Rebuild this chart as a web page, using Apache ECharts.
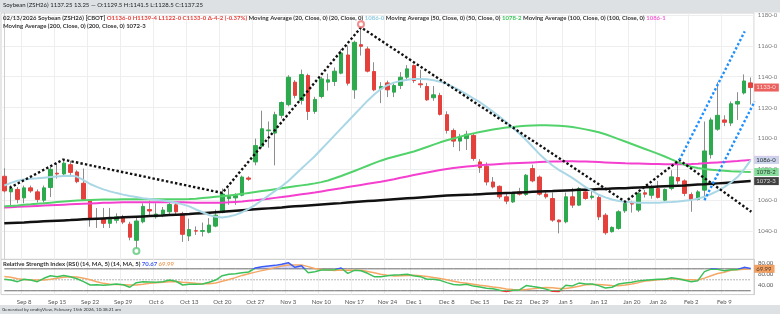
<!DOCTYPE html>
<html><head><meta charset="utf-8">
<script src="https://cdn.jsdelivr.net/npm/echarts@6/dist/echarts.min.js"></script>
<style>html,body{margin:0;padding:0;background:#fff}#c{width:780px;height:314px}</style>
</head><body><div id="c"></div>
<script>
const dates = ["Sep 3","Sep 4","Sep 5","Sep 8","Sep 9","Sep 10","Sep 11","Sep 12","Sep 15","Sep 16","Sep 17","Sep 18","Sep 19","Sep 22","Sep 23","Sep 24","Sep 25","Sep 26","Sep 29","Sep 30",
"Oct 1","Oct 2","Oct 3","Oct 6","Oct 7","Oct 8","Oct 9","Oct 10","Oct 13","Oct 14","Oct 15","Oct 16","Oct 17","Oct 20","Oct 21","Oct 22","Oct 23","Oct 24","Oct 27","Oct 28","Oct 29","Oct 30","Oct 31",
"Nov 3","Nov 4","Nov 5","Nov 6","Nov 7","Nov 10","Nov 11","Nov 12","Nov 13","Nov 14","Nov 17","Nov 18","Nov 19","Nov 20","Nov 21","Nov 24","Nov 25","Nov 26","Nov 28",
"Dec 1","Dec 2","Dec 3","Dec 4","Dec 5","Dec 8","Dec 9","Dec 10","Dec 11","Dec 12","Dec 15","Dec 16","Dec 17","Dec 18","Dec 19","Dec 22","Dec 23","Dec 24","Dec 26","Dec 29","Dec 30","Dec 31",
"Jan 2","Jan 5","Jan 6","Jan 7","Jan 8","Jan 9","Jan 12","Jan 13","Jan 14","Jan 15","Jan 16","Jan 20","Jan 21","Jan 22","Jan 23","Jan 26","Jan 27","Jan 28","Jan 29","Jan 30",
"Feb 2","Feb 3","Feb 4","Feb 5","Feb 6","Feb 9","Feb 10","Feb 11","Feb 12","Feb 13"];
const tickDates = ["Sep 8","Sep 15","Sep 22","Sep 29","Oct 6","Oct 13","Oct 20","Oct 27","Nov 3","Nov 10","Nov 17","Nov 24","Dec 1","Dec 8","Dec 15","Dec 22","Dec 29","Jan 5","Jan 12","Jan 20","Jan 26","Feb 2","Feb 9"];
const opens = [1075.5,1065.4,1067,1061.5,1068,1065.4,1060,1068.2,1077.5,1077,
1083,1078.3,1071,1060,1047.5,1048.2,1045,1047,1048.8,1044.5,
1034,1046,1054,1049.2,1050.3,1052.5,1057,1051.4,1036.8,1040.2,
1039.8,1039.2,1043.2,1052,1061,1061.5,1063.2,1074.4,1084.8,1095,
1105,1103.5,1115,1121.9,1136.5,1124.6,1140.8,1117.5,1127.2,1136.5,
1136.9,1142.3,1154.1,1131.5,1160.8,1158,1143.4,1132.2,1136,1130,
1134.3,1139.7,1147.2,1135.4,1133.7,1126.4,1127.9,1115.4,1105.2,1098.3,
1099.9,1102,1084.8,1082,1071.8,1069,1062.2,1058.9,1065.4,1063.7,
1080.5,1075,1063.9,1061.1,1047.1,1046,1062.2,1056.8,1065.4,1061.8,
1061.8,1050.3,1039.6,1041.7,1053.1,1058,1053.6,1064.8,1063.2,1067.6,
1060,1067.6,1074.7,1072.5,1063.7,1060.5,1066.5,1089.5,1106,1112,
1110,1122.3,1129.5,1136];
const highs = [1080.7,1069.7,1068.6,1069.5,1069.5,1067,1069.5,1081.5,1084,1086.5,
1085.5,1079.4,1080.5,1060.5,1054.9,1055,1055,1051.5,1050.5,1046,
1049,1058,1059.6,1058,1055.6,1058.5,1058.5,1052.5,1048,1043,
1045.5,1048.4,1053.9,1067.6,1067.6,1064.5,1076,1075.5,1099.9,1118,
1111,1117.3,1124,1141,1137.8,1144.6,1142,1127,1140,1142,
1146,1157.7,1160.2,1163.4,1172,1159.6,1149.4,1136.5,1137.5,1135.6,
1143,1147.5,1147.9,1144.5,1136,1134,1129.6,1117.6,1106.5,1103,
1105,1103.3,1086.6,1084.5,1075,1069.6,1064.8,1065.6,1068,1077,
1083,1076,1065.4,1065,1047.5,1065,1068,1068.6,1066.7,1067.2,
1063.3,1051.6,1043,1053.5,1060,1059.6,1065.6,1066.7,1070,1072.5,
1067.6,1079.4,1084.5,1073.5,1065,1066.5,1111,1113.5,1136.4,1115,
1124,1130,1141.5,1139.5];
const lows = [1065,1056,1058,1058,1064.8,1058.5,1058.4,1062,1074,1075.5,
1075.5,1071,1060,1042.8,1042,1042,1042,1045,1044.5,1034,
1029,1045,1050.5,1048,1049,1050,1050,1033,1033.5,1037.5,
1036.5,1038.5,1042.5,1051.5,1057,1057,1062.5,1072.5,1082.6,1093.6,
1094,1082.6,1113,1120.8,1126,1122,1112,1116,1126,1131,
1134,1141.6,1134.3,1125.7,1153.7,1142.8,1130.6,1122.9,1126.8,1126.8,
1132,1137.4,1136,1132.8,1124.4,1124.4,1114.9,1103.2,1094.4,1091.8,
1092.5,1085.5,1077.7,1069.6,1067.6,1060.9,1057.4,1058.2,1063,1062.8,
1071.6,1063,1061,1046,1038.5,1045,1055,1056.2,1060.3,1060.5,
1047.1,1037.6,1039,1040.9,1051.8,1052,1052.3,1061.7,1061,1061.1,
1059.4,1066.4,1070.6,1062.6,1052.5,1059.8,1062,1087,1105,1108,
1108,1112,1128.5,1122];
const closes = [1066,1067.6,1060.5,1068,1066,1060.5,1068,1080,1077,1084,
1078,1072,1060.5,1047.6,1048,1045,1047.6,1049.2,1045.8,1036,
1046.5,1056,1053,1051,1053.6,1057.2,1052.5,1037.9,1041,1040,
1040.3,1043.9,1050.3,1064,1062.6,1063,1075,1073.6,1095.4,1106.3,
1105.5,1115.4,1123.3,1139.7,1127.9,1141.4,1117.5,1125.3,1138.6,1138,
1143.6,1155.4,1135.8,1162.3,1159.7,1143.6,1131.5,1133.7,1131.5,1134.3,
1139.7,1145.1,1137.5,1134.8,1125,1128.3,1115.6,1105.2,1098.3,1100.9,
1102.7,1087,1081.1,1071.8,1068.6,1062.2,1059.4,1064.7,1063.9,1076.2,
1072.5,1063.9,1062.2,1047.1,1046,1062.2,1056.8,1067.6,1061.1,1062.6,
1049.2,1038.9,1042.4,1052.5,1057.9,1057.5,1064.5,1063.9,1068.2,1061.8,
1067,1075.1,1072.5,1064.4,1060.5,1065.4,1091.9,1112,1115,1110.5,
1122.5,1124,1137.25,1133];
const ma20 = [1069.5,1071.2,1072.6,1073.4,1073.9,1074.2,1074.6,1075,1075.3,1075.6,
1075.8,1075.3,1073,1070.5,1068.6,1067,1065.7,1064.6,1063.6,1062.7,
1062,1061.3,1060.8,1060.3,1059.8,1059.2,1058.4,1057.3,1056,1054,
1052.2,1050.4,1049.2,1048.8,1049.4,1050.5,1052.2,1054.4,1057,1060,
1063,1066,1069,1072.5,1076.5,1080.5,1084.5,1088.5,1093,1097.5,
1102,1106.5,1111,1115.5,1120,1124.5,1128.5,1132,1134.5,1136.2,
1137.3,1138,1138.5,1138.6,1138.3,1137.7,1136.8,1135.4,1133.3,1131,
1128.5,1126,1123.5,1120.5,1117.3,1114,1110.5,1107,1103,1099,
1094.5,1090,1086,1082.5,1079.5,1077,1074.5,1071.5,1068.5,1066,
1063.5,1061.8,1060.5,1059.5,1059,1058.7,1058.4,1058.3,1058.3,1058.4,
1058.6,1058.8,1059.2,1059.7,1060.2,1061,1062.2,1064,1066,1068.5,
1071.5,1075,1080,1086];
const ma50 = [1056,1056.3,1056.6,1057,1057.3,1057.7,1058,1058.4,1058.8,1059.2,
1059.5,1059.8,1060,1060.2,1060.3,1060.4,1060.5,1060.5,1060.6,1060.6,
1060.6,1060.6,1060.6,1060.6,1060.6,1060.6,1060.6,1060.6,1060.7,1061,
1061.4,1061.8,1062.2,1062.6,1063.1,1063.6,1064.1,1064.7,1065.3,1065.9,
1066.5,1067.1,1067.7,1068.4,1069,1069.6,1070.2,1070.9,1071.7,1072.8,
1074.2,1075.7,1077.3,1078.9,1080.6,1082.3,1084,1085.6,1087,1088.2,
1089.3,1090.4,1091.6,1093,1094.5,1096,1097.5,1098.8,1100,1101.2,
1102.3,1103.3,1104.2,1105,1105.8,1106.5,1107.1,1107.5,1107.9,1108.2,
1108.4,1108.5,1108.5,1108.4,1108.2,1107.9,1107.4,1106.7,1105.9,1105,
1104,1102.7,1101.2,1099.6,1098,1096.4,1094.8,1093.2,1091.6,1090,
1088.3,1086.5,1084.7,1083,1081.7,1080.8,1080.2,1079.8,1079.4,1079.1,
1078.8,1078.6,1078.4,1078.25];
const ma100 = [1055.3,1055.5,1055.7,1055.9,1056.1,1056.3,1056.5,1056.7,1056.9,1057.1,
1057.3,1057.5,1057.7,1057.9,1058.1,1058.3,1058.4,1058.5,1058.6,1058.6,
1058.7,1058.7,1058.7,1058.7,1058.7,1058.7,1058.7,1058.6,1058.5,1058.4,
1058.3,1058.3,1058.3,1058.4,1058.6,1058.9,1059.2,1059.6,1060,1060.5,
1061,1061.5,1062,1062.6,1063.2,1063.8,1064.4,1065,1065.7,1066.4,
1067.1,1067.8,1068.5,1069.2,1069.9,1070.6,1071.3,1072,1072.8,1073.6,
1074.5,1075.4,1076.3,1077.2,1078,1078.8,1079.5,1080.2,1080.8,1081.3,
1081.8,1082.2,1082.6,1082.9,1083.2,1083.5,1083.7,1083.9,1084.1,1084.3,
1084.5,1084.7,1084.9,1085,1085.1,1085.2,1085.2,1085.1,1085,1084.9,
1084.7,1084.5,1084.3,1084.1,1083.9,1083.8,1083.7,1083.6,1083.5,1083.4,
1083.3,1083.3,1083.3,1083.3,1083.4,1083.6,1083.9,1084.2,1084.5,1084.8,
1085.1,1085.4,1085.8,1086.125];
const ma200 = [1045,1045.2,1045.4,1045.6,1045.9,1046.1,1046.3,1046.5,1046.7,1046.9,
1047.1,1047.4,1047.6,1047.8,1048,1048.2,1048.4,1048.6,1048.9,1049.1,
1049.3,1049.5,1049.7,1049.9,1050.1,1050.4,1050.6,1050.8,1051,1051.3,
1051.6,1051.9,1052.2,1052.5,1052.9,1053.2,1053.5,1053.8,1054.1,1054.4,
1054.7,1055,1055.3,1055.7,1056,1056.3,1056.6,1056.9,1057.2,1057.5,
1057.8,1058.1,1058.5,1058.8,1059.1,1059.4,1059.7,1060,1060.3,1060.6,
1060.9,1061.2,1061.5,1061.8,1062.1,1062.4,1062.7,1063,1063.2,1063.4,
1063.6,1063.7,1063.9,1064.1,1064.3,1064.5,1064.7,1064.8,1065,1065.2,
1065.4,1065.6,1065.8,1065.9,1066.1,1066.3,1066.5,1066.7,1066.8,1067,
1067.2,1067.3,1067.5,1067.7,1067.8,1068,1068.2,1068.4,1068.6,1068.8,
1069,1069.2,1069.4,1069.6,1069.9,1070.1,1070.3,1070.6,1070.9,1071.2,
1071.5,1071.8,1072.1,1072.375];
const rsi = [50.9,49.6,46.6,51,49.6,46.6,52.7,57.5,55.7,58,
55.7,52,46.6,40.5,41,40,41,42.4,41,36.4,
44.8,46.6,46,45.4,46.6,49.6,47.3,40.5,41.8,41.8,
42.4,45.4,49.6,57.5,60,61,62.9,64.2,71.5,73.9,
75.1,76.3,78.2,81.1,72.7,75.7,62.9,64.7,67.8,67.8,
68.4,71.5,61.8,67.2,66.6,61.8,55.7,55.7,57.5,58.7,
59.3,60,57.5,55.7,51,51,49,44.8,41.5,40.5,
41.8,38.5,37,34.6,33.6,31,28.5,30.8,31.6,39.5,
37.6,35.8,33,29,28.8,40,38.8,44,42.4,42.4,
39.4,35,36.4,42.4,44,45.4,48,49,50.2,50.9,
50.9,53.9,52,49,46.6,48.4,64.8,69.5,69,66.5,
68.5,68.8,72.7,70.67];
const rsiMa = [56,54.5,52,50.5,49.8,49.6,49.8,51,53,54.5,
55.5,55,53,50,46.5,43.5,42,41.2,41,40.3,
40.6,41.8,43.5,44.5,45.5,46.5,47,45.5,44.5,43.5,
42.6,42.6,44.3,47.2,50.5,54,58,61,64,66.7,
69.3,72.2,75,77,77,76.9,74,70.5,68.7,67.8,
66.8,68,67.3,67.3,67.2,65,62.8,60.3,58.5,57,
57.5,58,58.3,57.3,56,54,52.5,50,47.5,45,
43.5,42,40.2,38.6,36.8,35.3,33.4,32.2,31.4,32.4,
33.6,35,35.8,35.6,34.2,34.3,36,38.4,40.8,41.5,
41.4,40.6,39.6,39.3,40.3,42.4,44.8,47.6,48.9,50,
51.2,51.7,51.2,50.5,50.2,49.8,53,57.5,61.5,63.8,
67.4,68.3,69.1,69.99];
// trend lines: [bar index, price]
const trendBlack = [[0.8,1068],[8.9,1086.3],[33,1064.7],[54,1172],[94,1059],[102.2,1086],[113.1,1052.5]];
const trendBlue1 = [[102.2,1086],[112.1,1169.4]];
const trendBlue2 = [[106,1060],[113.6,1124]];
const priceTicks = [1040,1060,1080,1100,1120,1140,1160,1180];
const rsiTicks = [40,60,80];
const rsiLevels = [70, 50, 30];

const FF = "Lato, 'Open Sans', sans-serif";
const N = dates.length, L = N - 1;
const tickSet = new Set(tickDates);
function e8(v){ const s = v < 0 ? '-' : ''; v = Math.abs(v); let i = Math.floor(v + 1e-9); let f = Math.round((v - i) * 8); if (f === 8) { i++; f = 0; } return s + i + '-' + f; }

const bodies = opens.map((o, i) => [o, closes[i], Math.min(o, closes[i]), Math.max(o, closes[i])]);
const wicks = lows.map((l, i) => [l, l, l, highs[i]]);
const obBase = rsi.map(() => 70);
const obTop = rsi.map(v => Math.max(v - 70, 0));
const osBase = rsi.map(v => Math.min(v, 30));
const osTop = rsi.map(v => 30 - Math.min(v, 30));
let hiIdx = 0, loIdx = 0;
highs.forEach((h, i) => { if (h > highs[hiIdx]) hiIdx = i; });
lows.forEach((l, i) => { if (l < lows[loIdx]) loIdx = i; });

const chg = closes[L] - closes[L - 1];
const pct = (chg / closes[L - 1] * 100).toFixed(2);
const headText = `Soybean (ZSH26) ${closes[L-1]} ${(closes[L-1]-closes[L-2]).toFixed(2)} — O:${opens[L-1]} H:${highs[L-1]} L:${lows[L-1]} C:${closes[L-1]}`;
const legText = `{t|02/13/2026 Soybean (ZSH26) [CBOT] }{r|O${e8(opens[L])} H${e8(highs[L])} L${e8(lows[L])} C${e8(closes[L])} Δ${e8(chg)} (${pct}%)}{t| Moving Average (20, Close, 0) (20, Close, 0) }{b|${e8(ma20[L])}}{t| Moving Average (50, Close, 0) (50, Close, 0) }{g|${e8(ma50[L])}}{t| Moving Average (100, Close, 0) (100, Close, 0) }{m|${e8(ma100[L])}}\n{t|Moving Average (200, Close, 0) (200, Close, 0) ${e8(ma200[L])}}`;
const rsiText = `{t|Relative Strength Index (RSI) (14, MA, 5) (14, MA, 5) }{b|${rsi[L].toFixed(2)}} {o|${rsiMa[L].toFixed(2)}}`;

// value tag on the right price scale: a point at the last bar with a boxed label
function tagSeries(axisIdx, val, text, bg, fg, z){
  return { type: 'scatter', xAxisIndex: axisIdx === 0 ? 0 : 1, yAxisIndex: axisIdx, data: [[L, val]], symbolSize: 0, clip: false, silent: true, z: z || 10,
    label: { show: true, position: 'right', distance: 3.5, formatter: text, backgroundColor: bg, color: fg,
      fontSize: 6, fontFamily: FF, padding: [1, 3, 1, 2], lineHeight: 6 } };
}
function levelSeries(v, color, type){
  return { type: 'line', xAxisIndex: 1, yAxisIndex: 1, data: rsi.map(() => v), showSymbol: false, silent: true, z: 1,
    lineStyle: { color: color, width: 1, type: type } };
}

const C = { green: '#2eaa4e', red: '#e5413c', wick: '#8d8d8d', ma20: '#a9d7e6', ma50: '#52d26a', ma100: '#f43fcf', ma200: '#111', blue: '#1e8fff' };

const chart = echarts.init(document.getElementById('c'), null, { renderer: 'canvas' });
chart.setOption({
  animation: false,
  backgroundColor: '#fff',
  textStyle: { fontFamily: FF },
  graphic: [
    { type: 'rect', left: 0, top: 0, shape: { width: 780, height: 12.5 }, style: { fill: '#dde1e4' }, z: -10 },
    { type: 'rect', left: 0, top: 305, shape: { width: 780, height: 9 }, style: { fill: '#dde1e4' }, z: -10 }
  ],
  title: [
    { text: headText, left: 3, top: 2.5, padding: 0, textStyle: { fontSize: 6, color: '#222', fontWeight: 'normal', fontFamily: FF } },
    { text: legText, left: 3, top: 13.5, padding: 0, textStyle: { fontSize: 6, fontFamily: FF, lineHeight: 8.3,
      rich: { t: { color: '#333', fontSize: 6, fontFamily: FF, lineHeight: 8.3 }, r: { color: '#e5413c', fontSize: 6, fontFamily: FF, lineHeight: 8.3 },
        b: { color: '#8fcbe0', fontSize: 6, fontFamily: FF, lineHeight: 8.3 }, g: { color: '#3cc75a', fontSize: 6, fontFamily: FF, lineHeight: 8.3 }, m: { color: '#f45fd6', fontSize: 6, fontFamily: FF, lineHeight: 8.3 } } } },
    { text: rsiText, left: 3, top: 261.5, padding: 0, textStyle: { fontSize: 6, fontFamily: FF,
      rich: { t: { color: '#333', fontSize: 6, fontFamily: FF }, b: { color: '#3d5cf5', fontSize: 6, fontFamily: FF }, o: { color: '#f0a060', fontSize: 6, fontFamily: FF } } } },
    { text: 'Generated by cmdtyView, February 15th 2026, 10:38:21 am', left: 2, top: 307, padding: 0, textStyle: { fontSize: 4.5, color: '#333', fontWeight: 'normal', fontFamily: FF } }
  ],
  grid: [
    { left: 1, right: 26, top: 13, height: 246.3, show: true, borderColor: '#cfcfcf', borderWidth: 1, backgroundColor: 'transparent' },
    { left: 1, right: 26, top: 259.5, height: 35.1, show: true, borderColor: '#cfcfcf', borderWidth: 1, backgroundColor: 'transparent' }
  ],
  xAxis: [
    { type: 'category', gridIndex: 0, data: dates, boundaryGap: true, axisLine: { show: false }, axisTick: { show: false, alignWithLabel: true }, axisLabel: { show: false, interval: (i, v) => tickSet.has(v) },
      splitLine: { show: true, interval: (i, v) => tickSet.has(v), lineStyle: { color: '#eeeeee', width: 1 } } },
    { type: 'category', gridIndex: 1, data: dates, boundaryGap: true, axisLine: { show: false }, axisTick: { show: false, alignWithLabel: true },
      axisLabel: { interval: (i, v) => tickSet.has(v), fontSize: 6, color: '#555', margin: 4, fontFamily: FF },
      splitLine: { show: true, interval: (i, v) => tickSet.has(v), lineStyle: { color: '#eeeeee', width: 1 } } },
    { type: 'value', gridIndex: 0, min: -0.5, max: N - 0.5, show: false }
  ],
  yAxis: [
    { type: 'value', gridIndex: 0, position: 'right', min: 1021.7, max: 1181.3,
      axisLine: { show: true, lineStyle: { color: '#cfcfcf' } }, axisTick: { show: false, customValues: priceTicks },
      axisLabel: { show: false, customValues: priceTicks },
      splitLine: { show: true, lineStyle: { color: '#eeeeee' } } },
    { type: 'value', gridIndex: 1, position: 'right', min: 23, max: 87,
      axisLine: { show: true, lineStyle: { color: '#cfcfcf' } }, axisTick: { show: false, customValues: rsiTicks },
      axisLabel: { customValues: rsiTicks, formatter: v => v.toFixed(2), fontSize: 6, color: '#555', margin: 4, fontFamily: FF },
      splitLine: { show: false } }
  ],
  visualMap: [{ type: 'piecewise', show: false, seriesIndex: 13, dimension: 1,
    pieces: [{ lt: 30, color: '#e53935' }, { gte: 30, lte: 70, color: '#3cc05a' }, { gt: 70, color: '#3d5cf5' }] }],
  series: [
    /*0*/ { name: 'wick', type: 'candlestick', xAxisIndex: 0, yAxisIndex: 0, data: wicks, barWidth: 1,
      itemStyle: { color: C.wick, color0: C.wick, borderColor: C.wick, borderColor0: C.wick, borderWidth: 1 } },
    /*1*/ { name: 'body', type: 'candlestick', xAxisIndex: 0, yAxisIndex: 0, data: bodies, barWidth: '60%',
      itemStyle: { color: C.green, color0: C.red, borderColor: C.green, borderColor0: C.red, borderWidth: 1 } },
    /*2*/ { name: 'MA200', type: 'line', xAxisIndex: 0, yAxisIndex: 0, data: ma200, showSymbol: false, lineStyle: { color: C.ma200, width: 2.5 } },
    /*3*/ { name: 'MA100', type: 'line', xAxisIndex: 0, yAxisIndex: 0, data: ma100, showSymbol: false, lineStyle: { color: C.ma100, width: 2 } },
    /*4*/ { name: 'MA50', type: 'line', xAxisIndex: 0, yAxisIndex: 0, data: ma50, showSymbol: false, lineStyle: { color: C.ma50, width: 2 } },
    /*5*/ { name: 'MA20', type: 'line', xAxisIndex: 0, yAxisIndex: 0, data: ma20, showSymbol: false, lineStyle: { color: C.ma20, width: 2 } },
    /*6*/ { name: 'trendBlack', type: 'line', xAxisIndex: 2, yAxisIndex: 0, data: trendBlack, showSymbol: false, lineStyle: { color: '#111', width: 2.4, type: [2.4, 2.2] } },
    /*7*/ { name: 'trendBlue1', type: 'line', xAxisIndex: 2, yAxisIndex: 0, data: trendBlue1, showSymbol: false, lineStyle: { color: C.blue, width: 2.4, type: [2.4, 2.2] } },
    /*8*/ { name: 'trendBlue2', type: 'line', xAxisIndex: 2, yAxisIndex: 0, data: trendBlue2, showSymbol: false, lineStyle: { color: C.blue, width: 2.4, type: [2.4, 2.2] } },
    /*9*/ { name: 'hiMark', type: 'scatter', xAxisIndex: 0, yAxisIndex: 0, data: [[hiIdx, highs[hiIdx]]], symbol: 'emptyCircle', symbolSize: 6, symbolOffset: [0, -3],
      itemStyle: { color: '#f07070', borderWidth: 1 }, z: 6 },
    /*10*/ { name: 'loMark', type: 'scatter', xAxisIndex: 0, yAxisIndex: 0, data: [[loIdx, lows[loIdx]]], symbol: 'emptyCircle', symbolSize: 6, symbolOffset: [0, 3],
      itemStyle: { color: '#5cc878', borderWidth: 1 } },
    /*11*/ { name: 'obBase', type: 'line', xAxisIndex: 1, yAxisIndex: 1, data: obBase, stack: 'ob', showSymbol: false, lineStyle: { width: 0 }, silent: true },
    /*12*/ { name: 'obFill', type: 'line', xAxisIndex: 1, yAxisIndex: 1, data: obTop, stack: 'ob', showSymbol: false, lineStyle: { width: 0 }, silent: true,
      areaStyle: { color: 'rgba(70,95,245,0.35)' } },
    /*13*/ { name: 'RSI', type: 'line', xAxisIndex: 1, yAxisIndex: 1, data: rsi, showSymbol: false, lineStyle: { width: 1.5 }, z: 4 },
    { name: 'osBase', type: 'line', xAxisIndex: 1, yAxisIndex: 1, data: osBase, stack: 'os', showSymbol: false, lineStyle: { width: 0 }, silent: true },
    { name: 'osFill', type: 'line', xAxisIndex: 1, yAxisIndex: 1, data: osTop, stack: 'os', showSymbol: false, lineStyle: { width: 0 }, silent: true,
      areaStyle: { color: 'rgba(229,57,53,0.6)' } },
    { name: 'RSI MA', type: 'line', xAxisIndex: 1, yAxisIndex: 1, data: rsiMa, showSymbol: false, lineStyle: { color: '#f5a765', width: 1.5 }, z: 3 },
    levelSeries(rsiLevels[0], '#6b6b6b', 'solid'),
    levelSeries(rsiLevels[1], '#9a9a9a', [1.5, 1.5]),
    levelSeries(rsiLevels[2], '#6b6b6b', 'solid'),
    // price scale tick labels (placed through the price axis)
    { name: 'priceLabels', type: 'scatter', xAxisIndex: 0, yAxisIndex: 0, data: priceTicks.map(v => [L, v]), symbolSize: 0, clip: false, silent: true, z: 5,
      label: { show: true, position: 'right', distance: 7, formatter: p => e8(p.value[1]), color: '#555', fontSize: 6, fontFamily: FF } },
    tagSeries(0, closes[L], e8(closes[L]), '#e53935', '#fff', 10),
    tagSeries(0, ma200[L], e8(ma200[L]), '#111', '#fff', 10),
    tagSeries(0, ma50[L], e8(ma50[L]), '#6bd686', '#111', 10),
    tagSeries(0, ma100[L], e8(ma100[L]), '#f07ad8', '#111', 10),
    tagSeries(0, ma20[L], e8(ma20[L]), '#c3e4ef', '#111', 11),
    tagSeries(1, rsiMa[L], rsiMa[L].toFixed(2), '#f08a3c', '#222', 10)
  ]
});
</script></body></html>
